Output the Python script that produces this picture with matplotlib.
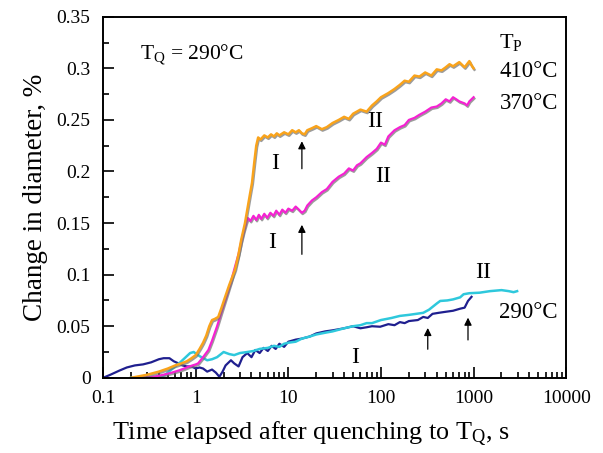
import numpy as np
import matplotlib
matplotlib.use("Agg")
from matplotlib import pyplot as plt
from matplotlib import patheffects as pe
from matplotlib.ticker import LogLocator, MultipleLocator, FixedLocator, FixedFormatter

plt.rcParams['font.family'] = ['Liberation Serif', 'DejaVu Serif']
plt.rcParams['mathtext.fontset'] = 'custom'
plt.rcParams['mathtext.rm'] = 'Liberation Serif'
plt.rcParams['mathtext.it'] = 'Liberation Serif:italic'

# 410 C (orange)
t_410 = [0.2, 0.3, 0.4, 0.5, 0.6, 0.7, 0.8, 0.9, 1.0, 1.1, 1.2, 1.3, 1.4, 1.5, 1.6, 1.75, 1.9, 2.07,
         2.3, 2.66, 2.9, 3.1, 3.4, 3.65, 3.85, 4.05, 4.3, 4.5, 4.72, 5.0, 5.5, 6, 6.5, 7, 7.5, 8, 9,
         10, 11, 12, 13, 14, 15, 16, 18, 20, 23, 26, 30, 35, 40, 45, 50, 60, 70, 80, 90, 100, 120,
         140, 160, 180, 200, 230, 260, 300, 350, 400, 450, 500, 550, 600, 700, 800, 900, 950, 1000]
d_410 = [0.0, 0.003, 0.006, 0.009, 0.012, 0.014, 0.016, 0.019, 0.022, 0.028, 0.034, 0.041, 0.05,
         0.056, 0.057, 0.059, 0.068, 0.078, 0.09, 0.105, 0.12, 0.134, 0.15, 0.166, 0.178, 0.189,
         0.21, 0.225, 0.233, 0.231, 0.235, 0.233, 0.236, 0.234, 0.237, 0.235, 0.238, 0.236, 0.24,
         0.238, 0.24, 0.237, 0.236, 0.24, 0.242, 0.244, 0.241, 0.243, 0.247, 0.25, 0.253, 0.251,
         0.256, 0.26, 0.258, 0.264, 0.268, 0.272, 0.276, 0.28, 0.284, 0.288, 0.287, 0.293, 0.292,
         0.296, 0.293, 0.299, 0.298, 0.301, 0.304, 0.302, 0.306, 0.301, 0.307, 0.303, 0.3]

# 370 C (magenta)
t_370 = [0.25, 0.35, 0.45, 0.55, 0.65, 0.75, 0.85, 1.0, 1.06, 1.2, 1.37, 1.5, 1.7, 1.9, 2.2, 2.4,
         2.66, 2.9, 3.1, 3.3, 3.5, 3.65, 3.9, 4.2, 4.5, 4.8, 5.1, 5.5, 5.9, 6.4, 6.9, 7.4, 8, 8.6, 9.3,
         10, 11, 12, 13, 14, 15, 16, 18, 20, 23, 26, 30, 35, 40, 45, 50, 55, 60, 70, 80, 90, 100, 110,
         120, 140, 160, 180, 200, 230, 260, 300, 350, 400, 450, 500, 550, 600, 650, 700, 800, 850,
         900, 1000]
d_370 = [0.0, 0.001, 0.003, 0.005, 0.007, 0.009, 0.011, 0.013, 0.014, 0.02, 0.027, 0.036, 0.05,
         0.064, 0.082, 0.093, 0.108, 0.12, 0.132, 0.142, 0.15, 0.155, 0.152, 0.157, 0.153, 0.158,
         0.154, 0.159, 0.155, 0.16, 0.157, 0.162, 0.158, 0.163, 0.16, 0.164, 0.162, 0.166, 0.163,
         0.16, 0.162, 0.167, 0.172, 0.175, 0.18, 0.183, 0.19, 0.195, 0.198, 0.203, 0.201, 0.206,
         0.208, 0.214, 0.218, 0.222, 0.228, 0.226, 0.234, 0.24, 0.243, 0.245, 0.25, 0.252, 0.255,
         0.258, 0.262, 0.263, 0.266, 0.27, 0.268, 0.272, 0.27, 0.268, 0.266, 0.264, 0.268, 0.272]

# 290 C (navy)
t_290a = [0.1, 0.12, 0.15, 0.18, 0.22, 0.27, 0.33, 0.4, 0.45, 0.52, 0.58, 0.65, 0.72, 0.8, 0.9, 1.0,
          1.1, 1.2, 1.33, 1.5, 1.65, 1.8, 1.95, 2.1, 2.4, 2.6, 2.9, 3.2, 3.6, 4.0, 4.4, 4.9, 5.4, 6,
          6.6, 7.3, 8, 9, 10, 12, 14, 17, 20, 25, 30, 40, 50, 60, 70, 80, 98, 120, 140, 160, 180,
          200, 250, 286, 320, 360, 420, 500, 600, 716, 800, 870, 950]
d_290a = [0.0, 0.003, 0.007, 0.01, 0.012, 0.013, 0.015, 0.018, 0.019, 0.019, 0.016, 0.014, 0.012,
          0.011, 0.011, 0.009, 0.01, 0.009, 0.006, 0.008, 0.005, 0.001, 0.006, 0.012, 0.017, 0.014,
          0.011, 0.02, 0.024, 0.02, 0.027, 0.024, 0.029, 0.026, 0.031, 0.028, 0.033, 0.03, 0.035,
          0.037, 0.038, 0.04, 0.043, 0.045, 0.046, 0.048, 0.05, 0.048, 0.049, 0.05, 0.0495, 0.052,
          0.051, 0.054, 0.053, 0.055, 0.056, 0.059, 0.058, 0.062, 0.063, 0.064, 0.065, 0.067, 0.068,
          0.0745, 0.0785]

# 290 C (cyan)
t_290b = [0.2, 0.3, 0.41, 0.47, 0.53, 0.6, 0.68, 0.78, 0.87, 0.95, 1.1, 1.33, 1.5, 1.7, 2.0, 2.3,
          2.6, 3.0, 3.6, 4.2, 4.9, 6, 7, 8, 9, 10, 12, 14, 17, 20, 26, 30, 40, 50, 60, 70, 80, 100,
          130, 160, 200, 240, 286, 330, 400, 436, 520, 600, 716, 780, 900, 1160, 1500, 2000, 2400,
          2700, 2950]
d_290b = [0.0, 0.0, 0.0, 0.003, 0.007, 0.011, 0.015, 0.02, 0.024, 0.025, 0.021, 0.017, 0.018,
          0.02, 0.025, 0.023, 0.022, 0.024, 0.025, 0.026, 0.028, 0.029, 0.031, 0.03, 0.033, 0.034,
          0.035, 0.038, 0.04, 0.042, 0.044, 0.045, 0.048, 0.05, 0.051, 0.053, 0.053, 0.056, 0.058,
          0.06, 0.061, 0.062, 0.063, 0.066, 0.072, 0.0745, 0.075, 0.076, 0.078, 0.081, 0.082,
          0.0825, 0.084, 0.085, 0.084, 0.083, 0.084]

# arrows: (time, tip, tail)
arrow_t = [14, 14, 320, 870]
arrow_tip = [0.232, 0.151, 0.051, 0.061]
arrow_tail = [0.2, 0.117, 0.025, 0.034]

fig = plt.figure(figsize=[6.03, 4.53], dpi=100)
ax = fig.add_axes([0.171, 0.166, 0.768, 0.797])

shadow = [pe.SimpleLineShadow(offset=(0.6, -1.0), shadow_color='0.45', alpha=0.7), pe.Normal()]
ax.plot(t_290a, d_290a, color='#1f1f8f', lw=1.6)
ax.plot(t_290b, d_290b, color='#2ec8dc', lw=1.8)
ax.plot(t_370, d_370, color='#f522d2', lw=1.6, path_effects=shadow)
ax.plot(t_410, d_410, color='#f9a31b', lw=1.8, path_effects=shadow)

for t, tip, tail in zip(arrow_t, arrow_tip, arrow_tail):
    ax.annotate('', xy=(t, tip), xytext=(t, tail),
                arrowprops=dict(arrowstyle='-|>', color='black', lw=0.9, mutation_scale=11))

ax.set_xscale('log')
ax.set_xlim(0.1, 10000)
ax.set_ylim(0, 0.35)
ax.xaxis.set_major_locator(FixedLocator([0.1, 1, 10, 100, 1000, 10000]))
ax.xaxis.set_major_formatter(FixedFormatter(['0.1', '1', '10', '100', '1000', '10000']))
ax.xaxis.set_minor_locator(LogLocator(base=10, subs=np.arange(2, 10), numticks=20))
ax.xaxis.set_minor_formatter(plt.NullFormatter())
ax.yaxis.set_major_locator(FixedLocator([0, 0.05, 0.1, 0.15, 0.2, 0.25, 0.3, 0.35]))
ax.yaxis.set_major_formatter(FixedFormatter(['0', '0.05', '0.1', '0.15', '0.2', '0.25', '0.3', '0.35']))
ax.yaxis.set_minor_locator(MultipleLocator(0.025))
ax.tick_params(which='both', direction='in', labelsize=14, width=1.2)
ax.tick_params(which='major', length=8, pad=9)
ax.tick_params(which='minor', length=4)
for s in ax.spines.values():
    s.set_linewidth(1.4)

ax.set_xlabel('Time elapsed after quenching to T$_\\mathrm{Q}$, s', fontsize=18.8)
ax.xaxis.set_label_coords(0.449, -0.116)
ax.set_ylabel('Change in diameter, %', fontsize=19.5, labelpad=6)

ax.text(0.25, 0.313, 'T$_\\mathrm{Q}$ = 290°C', fontsize=15.5, va='center')
ax.text(1900, 0.3248, 'T$_\\mathrm{P}$', fontsize=16, va='center')
ax.text(1900, 0.2967, '410°C', fontsize=16.5, va='center')
ax.text(1900, 0.2656, '370°C', fontsize=16.5, va='center')
ax.text(1900, 0.063, '290°C', fontsize=16.5, va='center')
ax.text(7.2, 0.208, 'I', fontsize=17, ha='center', va='center')
ax.text(6.7, 0.131, 'I', fontsize=17, ha='center', va='center')
ax.text(53, 0.02, 'I', fontsize=17, ha='center', va='center')
ax.text(87, 0.248, 'II', fontsize=17, ha='center', va='center')
ax.text(105, 0.195, 'II', fontsize=17, ha='center', va='center')
ax.text(1270, 0.102, 'II', fontsize=17, ha='center', va='center')

plt.savefig('out.png', dpi=100)
